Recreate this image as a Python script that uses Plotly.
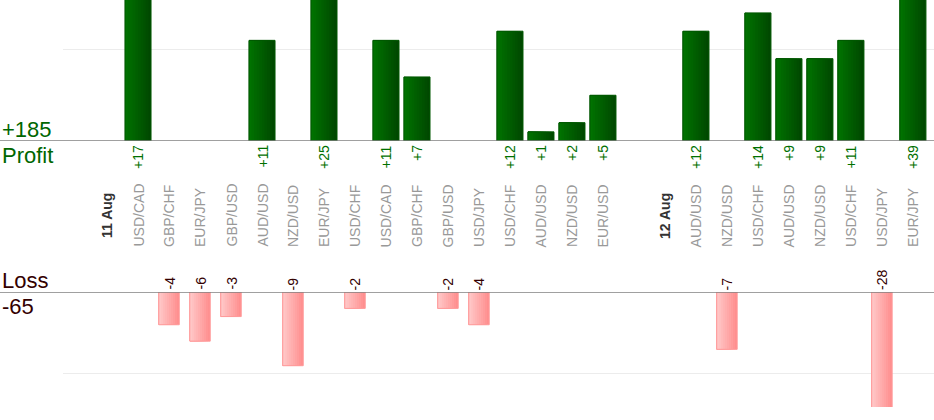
#!/usr/bin/env python
"""
Profit / loss per trade bars, two days of FX trades
"""

import plotly.graph_objs as go

# slot labels along the x axis ("" = spacer slot)
categories = ["", "11 Aug", "USD/CAD", "GBP/CHF", "EUR/JPY", "GBP/USD", "AUD/USD",
              "NZD/USD", "EUR/JPY", "USD/CHF", "USD/CAD", "GBP/CHF", "GBP/USD",
              "USD/JPY", "USD/CHF", "AUD/USD", "NZD/USD", "EUR/USD", "", "12 Aug",
              "AUD/USD", "NZD/USD", "USD/CHF", "AUD/USD", "NZD/USD", "USD/CHF",
              "USD/JPY", "EUR/JPY"]
date_labels = ["11 Aug", "12 Aug"]
# result of each trade in pips (None = no trade in that slot)
results = [None, None, 17, -4, -6, -3, 11, -9, 25, -2, 11, 7, -2, -4, 12, 1, 2, 5,
           None, None, 12, -7, 14, 9, 9, 11, -28, 39]

FONT = "Arial, Liberation Sans, sans-serif"
W, H = 934, 420


def lerp(col_a, col_b, frac):
    """mix two rgb tuples"""
    return "rgb({},{},{})".format(*[round(a + (b - a) * frac) for a, b in zip(col_a, col_b)])


def gradient_bars(xpos, yvals, width, left, right, edge, xaxis, yaxis, steps=10):
    """stack of overlaid bars that fakes a left->right gradient"""
    traces = []
    for k in range(steps):
        part = (steps - k) / steps
        traces.append(go.Bar(x=xpos, y=yvals, width=width * part, offset=-width / 2,
                             marker=dict(color=lerp(left, right, (steps - k - 0.5) / steps),
                                         line=dict(width=0)),
                             xaxis=xaxis, yaxis=yaxis, hoverinfo="skip", showlegend=False))
    traces.append(go.Bar(x=xpos, y=yvals, width=width, offset=-width / 2,
                         marker=dict(color="rgba(0,0,0,0)", line=dict(color=edge, width=1)),
                         xaxis=xaxis, yaxis=yaxis, showlegend=False))
    return traces


def main():
    """Main function"""
    idx = list(range(len(categories)))
    profit = [r if r is not None and r > 0 else None for r in results]
    loss = [r if r is not None and r < 0 else None for r in results]

    traces = gradient_bars(idx, profit, 0.84, (0, 116, 0), (0, 70, 0), "#005800", "x", "y")
    traces += gradient_bars(idx, loss, 0.66, (255, 202, 202), (255, 140, 140), "#ff9a9a",
                            "x2", "y2")
    fig = go.Figure(data=traces)

    annotations = []
    for i, cat in enumerate(categories):
        if not cat:
            continue
        if cat in date_labels:
            annotations.append(dict(x=i, y=1 - 216 / H, xref="x", yref="paper", text="<b>%s</b>" % cat,
                                    textangle=-90, showarrow=False, yanchor="middle",
                                    font=dict(family=FONT, size=14, color="#333333")))
        else:
            annotations.append(dict(x=i, y=1 - 249 / H, xref="x", yref="paper", text=cat,
                                    textangle=-90, showarrow=False, yanchor="bottom",
                                    font=dict(family=FONT, size=14, color="#999999")))
    for i, val in enumerate(profit):
        if val is not None:
            annotations.append(dict(x=i, y=0, xref="x", yref="y", text="+%d" % val,
                                    textangle=-90, showarrow=False, yanchor="top", yshift=-2,
                                    font=dict(family=FONT, size=14, color="#007000")))
    for i, val in enumerate(loss):
        if val is not None:
            annotations.append(dict(x=i, y=0, xref="x2", yref="y2", text="%d" % val,
                                    textangle=-90, showarrow=False, yanchor="bottom", yshift=0,
                                    font=dict(family=FONT, size=14, color="#330000")))

    total_profit = sum(v for v in profit if v is not None)
    total_loss = sum(v for v in loss if v is not None)
    big = dict(xref="paper", yref="paper", x=0, xanchor="left", showarrow=False,
               yanchor="middle", xshift=0)
    annotations += [
        dict(big, y=1 - 129 / H, text="+%d" % total_profit,
             font=dict(family=FONT, size=22, color="#006600")),
        dict(big, y=1 - 155 / H, text="Profit", font=dict(family=FONT, size=22, color="#006600")),
        dict(big, y=1 - 280 / H, text="Loss", font=dict(family=FONT, size=22, color="#330000")),
        dict(big, y=1 - 306 / H, text="%d" % total_loss,
             font=dict(family=FONT, size=22, color="#330000")),
    ]

    baseline = dict(type="line", xref="paper", x0=0, x1=1, y0=0, y1=0, layer="above",
                    line=dict(color="#808080", width=1.5))
    shapes = [dict(baseline, yref="y"), dict(baseline, yref="y2")]

    xrange = [-0.42, 27.68]
    xdom = [63 / W, 1]
    fig.update_layout(
        width=W, height=H, margin=dict(l=0, r=0, t=0, b=0),
        paper_bgcolor="white", plot_bgcolor="white", barmode="overlay",
        showlegend=False, annotations=annotations, shapes=shapes,
        font=dict(family=FONT),
        xaxis=dict(domain=xdom, range=xrange, visible=False, anchor="y"),
        xaxis2=dict(domain=xdom, range=xrange, visible=False, anchor="y2"),
        yaxis=dict(domain=[1 - 141 / H, 1], range=[0, 141 / 9.15], tickvals=[10],
                   showticklabels=False, showgrid=True, gridcolor="#ececec",
                   zeroline=False, anchor="x"),
        yaxis2=dict(domain=[1 - 407 / H, 1 - 292 / H], range=[-115 / 8.19, 0], tickvals=[-10],
                    showticklabels=False, showgrid=True, gridcolor="#ececec",
                    zeroline=False, anchor="x2"),
    )

    # page body has a default 8px margin; drop it so the chart sits at the corner
    fig.write_html("out.html", config={"displayModeBar": False},
                   post_script="document.body.style.margin='0';")


if __name__ == '__main__':
    main()
